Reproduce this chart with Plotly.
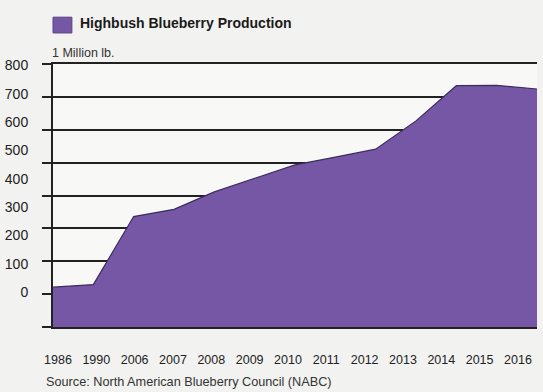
import plotly.graph_objects as go

# Data (million lb)
years = ["1986", "1990", "2006", "2007", "2008", "2009", "2010", "2011", "2012", "2013", "2014", "2015", "2016"]
production = [121, 129, 336, 358, 411, 452, 493, 517, 541, 627, 734, 735, 724]
y_tick_labels = ["800", "700", "600", "500", "400", "300", "200", "100", "0"]
y_tick_values = [800, 700, 600, 500, 400, 300, 200, 100, 0]

PURPLE = "#7657a6"
FONT = "Liberation Sans, Arial, sans-serif"
DARK = "#222222"

idx = list(range(len(years)))

fig = go.Figure()
fig.add_trace(go.Scatter(
    x=idx, y=production, mode="lines", fill="tozeroy",
    fillcolor=PURPLE, line=dict(color="#3b2d5e", width=1.2),
    hoverinfo="skip", showlegend=False,
))
# invisible helper trace that carries the label axes
fig.add_trace(go.Scatter(
    x=idx[:len(y_tick_values)], y=y_tick_values,
    xaxis="x2", yaxis="y2", mode="markers", marker=dict(opacity=0),
    hoverinfo="skip", showlegend=False,
))

fig.update_layout(
    width=543, height=392,
    margin=dict(l=53, r=6, t=64, b=65),
    paper_bgcolor="#f2f2f0",
    plot_bgcolor="#f8f8f7",
    font=dict(family=FONT, color="#222222"),
    xaxis=dict(
        range=[0, len(years) - 1], showgrid=False, zeroline=False,
        showticklabels=False, ticks="",
        showline=True, linecolor=DARK, linewidth=2, mirror=True,
    ),
    yaxis=dict(
        range=[0, 800], dtick=100, tick0=0,
        showgrid=True, gridcolor=DARK, gridwidth=2,
        zeroline=False, showticklabels=False,
        ticks="outside", ticklen=9, tickwidth=2, tickcolor=DARK,
        showline=True, linecolor=DARK, linewidth=2,
    ),
    xaxis2=dict(
        overlaying="x", side="bottom", anchor="y",
        range=[-0.13, 12.497],
        tickmode="array", tickvals=idx, ticktext=years,
        showgrid=False, zeroline=False, showline=False,
        ticks="outside", ticklen=21, tickcolor="rgba(0,0,0,0)",
        tickfont=dict(size=12.5, color="#222222"),
    ),
    yaxis2=dict(
        overlaying="y", side="left", anchor="x",
        range=[-123.6, 805.3],
        tickmode="array", tickvals=y_tick_values, ticktext=y_tick_labels,
        showgrid=False, zeroline=False, showline=False,
        ticks="outside", ticklen=21, tickcolor="rgba(0,0,0,0)",
        tickfont=dict(size=14, color="#222222"),
    ),
)

# legend square + title
fig.add_shape(type="rect", xref="paper", yref="paper",
              x0=0, x1=0.039, y0=1.118, y1=1.178,
              fillcolor=PURPLE, line=dict(color="#5a4485", width=1))
fig.add_annotation(text="<b>Highbush Blueberry Production</b>", xref="paper", yref="paper",
                   x=0.052, y=1.154, xanchor="left", yanchor="middle", showarrow=False,
                   font=dict(size=14, color="#1a1a1a"))
fig.add_annotation(text="1 Million lb.", xref="paper", yref="paper",
                   x=-0.006, y=1.042, xanchor="left", yanchor="middle", showarrow=False,
                   font=dict(size=12.5, color="#333333"))
fig.add_annotation(text="Source: North American Blueberry Council (NABC)", xref="paper", yref="paper",
                   x=-0.018, y=-0.209, xanchor="left", yanchor="middle", showarrow=False,
                   font=dict(size=12.7, color="#333333"))

fig.write_html("out.html")
